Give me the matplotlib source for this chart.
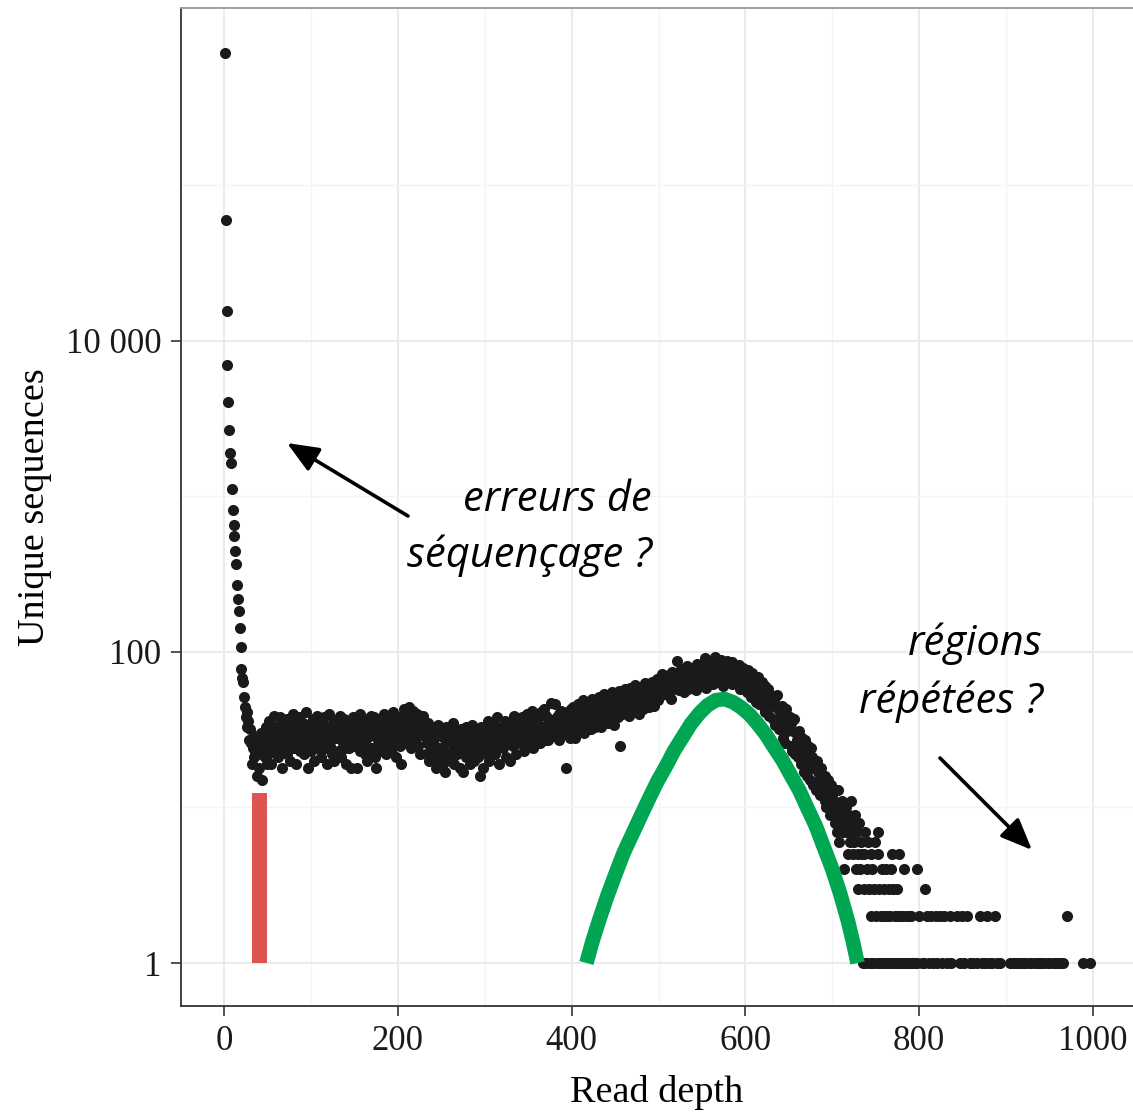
import matplotlib.pyplot as plt
import numpy as np

# unique sequences seen at each read depth
head_counts = [711000, 60000, 15600, 7000, 4035, 2680, 1914, 1650, 1113, 818,
               656, 560, 448, 366, 270, 218, 183, 142, 107, 78,
               68, 64, 51, 44, 38, 41, 33, 36, 27]          # depth 1..29

body_counts = [                                               # depth 30..699
    32, 26, 19, 24, 29, 21, 23, 27, 16, 25,
    18, 28, 22, 30, 15, 26, 24, 21, 33, 19,
    29, 22, 36, 26, 19, 32, 25, 39, 24, 28,
    33, 27, 21, 30, 38, 24, 29, 18, 35, 26,
    25, 31, 37, 22, 28, 34, 20, 30, 27, 40,
    36, 24, 29, 19, 33, 27, 38, 23, 31, 26,
    28, 35, 22, 30, 41, 25, 32, 18, 29, 34,
    23, 30, 37, 27, 20, 33, 26, 39, 24, 31,
    35, 26, 21, 32, 28, 38, 24, 30, 19, 33,
    27, 40, 25, 31, 22, 35, 29, 20, 36, 28,
    32, 23, 34, 28, 39, 21, 30, 26, 37, 24,
    19, 31, 27, 36, 24, 33, 18, 29, 38, 26,
    30, 25, 35, 18, 32, 27, 40, 23, 34, 28,
    26, 37, 22, 31, 28, 20, 35, 29, 24, 39,
    33, 24, 30, 38, 21, 18, 34, 27, 31, 25,
    28, 35, 23, 32, 40, 26, 22, 36, 29, 31,
    34, 27, 38, 24, 30, 41, 26, 33, 21, 36,
    30, 37, 25, 34, 19, 39, 28, 43, 32, 26,
    36, 41, 29, 44, 33, 24, 38, 31, 42, 27,
    35, 28, 40, 25, 33, 37, 22, 36, 30, 39,
    29, 33, 22, 30, 26, 35, 20, 28, 32, 24,
    27, 21, 31, 25, 18, 29, 34, 23, 20, 30,
    24, 30, 19, 28, 17, 26, 33, 22, 29, 21,
    28, 20, 31, 25, 35, 19, 24, 30, 22, 27,
    23, 29, 18, 32, 25, 17, 28, 24, 33, 21,
    29, 24, 31, 19, 27, 34, 22, 28, 20, 30,
    25, 32, 21, 29, 16, 27, 33, 24, 18, 31,
    28, 22, 31, 25, 36, 20, 29, 33, 24, 30,
    26, 34, 22, 31, 38, 27, 19, 32, 25, 29,
    33, 24, 30, 36, 21, 28, 34, 26, 31, 20,
    29, 35, 25, 32, 39, 27, 22, 33, 30, 37,
    34, 26, 31, 38, 28, 23, 36, 32, 27, 40,
    30, 37, 26, 34, 42, 29, 24, 35, 32, 39,
    36, 28, 38, 32, 26, 41, 33, 30, 43, 27,
    31, 39, 34, 27, 37, 32, 47, 29, 36, 33,
    34, 46, 29, 38, 32, 40, 27, 35, 42, 33,
    37, 30, 39, 18, 34, 41, 31, 38, 28, 43,
    38, 31, 44, 35, 28, 41, 36, 46, 32, 39,
    34, 43, 37, 49, 30, 40, 35, 45, 39, 32,
    45, 37, 32, 42, 50, 35, 41, 33, 47, 39,
    36, 44, 51, 38, 33, 46, 41, 54, 37, 43,
    48, 40, 35, 52, 44, 38, 55, 41, 47, 34,
    42, 50, 45, 38, 56, 43, 25, 48, 40, 53,
    50, 44, 58, 41, 47, 54, 39, 59, 46, 43,
    45, 55, 49, 61, 42, 52, 57, 47, 40, 54,
    59, 48, 43, 56, 51, 63, 46, 53, 60, 44,
    51, 58, 64, 47, 55, 45, 61, 52, 67, 49,
    59, 66, 52, 63, 72, 57, 61, 54, 68, 60,
    65, 56, 71, 62, 50, 67, 74, 58, 63, 69,
    61, 88, 66, 57, 73, 64, 78, 59, 70, 55,
    68, 75, 62, 81, 58, 71, 65, 77, 60, 73,
    64, 79, 70, 57, 84, 66, 74, 61, 80, 69,
    76, 63, 85, 70, 91, 59, 78, 67, 82, 72,
    68, 87, 74, 62, 80, 93, 71, 65, 84, 76,
    79, 66, 89, 73, 60, 85, 70, 81, 64, 88,
    72, 83, 67, 78, 62, 86, 75, 69, 81, 64,
    77, 63, 71, 82, 58, 74, 67, 79, 61, 70,
    66, 74, 55, 77, 60, 70, 51, 73, 58, 64,
    60, 67, 48, 63, 53, 69, 46, 61, 50, 64,
    56, 44, 60, 41, 53, 47, 58, 39, 51, 45,
    47, 52, 37, 49, 34, 45, 53, 36, 43, 32,
    42, 32, 45, 28, 39, 35, 26, 43, 31, 38,
    34, 38, 25, 35, 23, 31, 37, 22, 30, 27,
    29, 21, 31, 24, 19, 28, 23, 17, 27, 20,
    23, 16, 25, 19, 15, 24, 18, 21, 14, 20,
    18, 13, 20, 14, 17, 15, 12, 18, 14, 13,
    15, 11, 16, 10, 13, 15, 11, 9, 14, 10,
]

# low-count tail, depth 700..800 (0 = no sequence at that depth)
tail_counts = [
    12, 9, 11, 8, 10, 7, 13, 9, 6, 10,
    8, 11, 7, 9, 4, 8, 10, 7, 5, 9,
    6, 11, 7, 8, 5, 6, 9, 4, 7, 3,
    5, 8, 4, 6, 5, 1, 5, 3, 7, 1,
    4, 6, 3, 1, 5, 2, 4, 1, 3, 6,
    2, 1, 5, 7, 3, 1, 2, 4, 1, 3,
    2, 1, 4, 2, 1, 3, 2, 4, 1, 5,
    3, 1, 2, 1, 3, 2, 1, 5, 2, 1,
    2, 1, 0, 4, 1, 2, 1, 0, 2, 1,
    2, 1, 0, 1, 0, 1, 0, 4, 1, 0, 2,
]

# sparse far tail
far_depth = [803, 805, 807, 809, 811, 814, 816, 819, 821, 824, 826, 829, 832, 835,
             837, 843, 847, 849, 851, 855, 858, 862, 866, 870, 872, 876, 878, 880,
             884, 887, 889, 893, 904, 908, 911, 915, 918, 922, 926, 929, 933, 937,
             940, 944, 948, 951, 955, 959, 962, 966, 970, 988, 997]
far_count = [1, 1, 3, 2, 1, 2, 1, 2, 1, 2, 1, 2, 1, 2,
             1, 2, 1, 2, 1, 2, 1, 1, 1, 2, 1, 1, 2, 1,
             1, 2, 1, 1, 1, 1, 1, 1, 1, 1, 1, 1, 1, 1,
             1, 1, 1, 1, 1, 1, 1, 1, 2, 1, 1]

# green coverage curve
curve_depth = [417, 424, 432, 441, 451, 460, 470, 480, 490, 499, 509, 518, 528, 537,
               547, 556, 566, 576, 586, 595, 605, 614, 624, 633, 643, 652, 662, 671,
               681, 690, 700, 709, 718, 724, 729]
curve_count = [1.0, 1.38, 1.91, 2.69, 3.8, 5.13, 6.76, 8.91, 11.7, 14.8, 18.6, 23.2, 28.5, 34.3,
               40.3, 45.2, 49.0, 49.8, 47.5, 44.0, 39.5, 34.5, 29.2, 24.3, 20.0, 16.2, 12.9, 10.0,
               7.6, 5.6, 4.0, 2.8, 1.86, 1.35, 1.0]

# red threshold bar
cutoff_depth = 41
cutoff_top = 12.4

counts = np.array(head_counts + body_counts + tail_counts, dtype=float)
depth = np.arange(1, len(counts) + 1)
keep = counts > 0
depth = np.concatenate([depth[keep], far_depth])
counts = np.concatenate([counts[keep], far_count])

fig = plt.figure(figsize=(11.33, 11.15), dpi=100)
ax = fig.add_axes([181 / 1133, 109 / 1115, 952 / 1133, 998 / 1115])

ax.set_yscale('log')
ax.set_xlim(-49.5, 1046)
ax.set_ylim(10 ** -0.2765, 10 ** 6.141)

ax.set_xticks([0, 200, 400, 600, 800, 1000])
ax.set_xticks([100, 300, 500, 700, 900], minor=True)
ax.set_yticks([1, 100, 10000])
ax.set_yticklabels(['1', '100', '10 000'])
ax.set_yticks([10, 1000, 100000], minor=True)
ax.yaxis.set_minor_formatter(plt.NullFormatter())

ax.grid(True, which='major', color='#ebebeb', lw=1.4)
ax.grid(True, which='minor', color='#f4f4f4', lw=1.0)
ax.set_axisbelow(True)

ax.scatter(depth, counts, s=64, color='#1a1a1a', linewidths=0, zorder=3)
ax.bar(cutoff_depth, cutoff_top - 1, bottom=1, width=17, color='#dc5550', zorder=4)
ax.plot(curve_depth, curve_count, color='#00a651', lw=10.5, solid_capstyle='butt',
        solid_joinstyle='round', zorder=5)

for side in ['left', 'bottom']:
    ax.spines[side].set_color('#333333')
    ax.spines[side].set_linewidth(1.3)
ax.spines['right'].set_visible(False)
ax.spines['top'].set_color('#999999')
ax.spines['top'].set_linewidth(1.3)

serif = 'Liberation Serif'
ax.tick_params(which='major', length=7, width=1.2, color='#333333', labelsize=25, pad=7)
ax.tick_params(which='minor', length=0)
for lab in ax.get_xticklabels() + ax.get_yticklabels():
    lab.set_family(serif)
    lab.set_color('#1a1a1a')

ax.set_xlabel('Read depth', fontsize=27.5, family=serif, labelpad=12)
ax.set_ylabel('Unique sequences', fontsize=27.5, family=serif, labelpad=10)

H = 1115
txt = dict(fontsize=30, family='Open Sans', style='italic', ha='right', va='baseline', color='black')
fig.text(652 / 1133, 1 - 511 / H, 'erreurs de', **txt)
fig.text(652 / 1133, 1 - 567 / H, 'séquençage ?', **txt)
fig.text(1043 / 1133, 1 - 655 / H, 'régions', **txt)
fig.text(1043 / 1133, 1 - 713 / H, 'répétées ?', **txt)

arrow = dict(arrowstyle='-|>,head_length=0.6,head_width=0.25', color='black', lw=2.6,
             mutation_scale=32, shrinkA=0, shrinkB=0)
ax.annotate('', xy=(287, H - 443), xytext=(408, H - 516), xycoords='figure pixels',
            textcoords='figure pixels', arrowprops=arrow)
ax.annotate('', xy=(1032, H - 850), xytext=(940, H - 758), xycoords='figure pixels',
            textcoords='figure pixels', arrowprops=arrow)

fig.savefig('out.png', dpi=100)
